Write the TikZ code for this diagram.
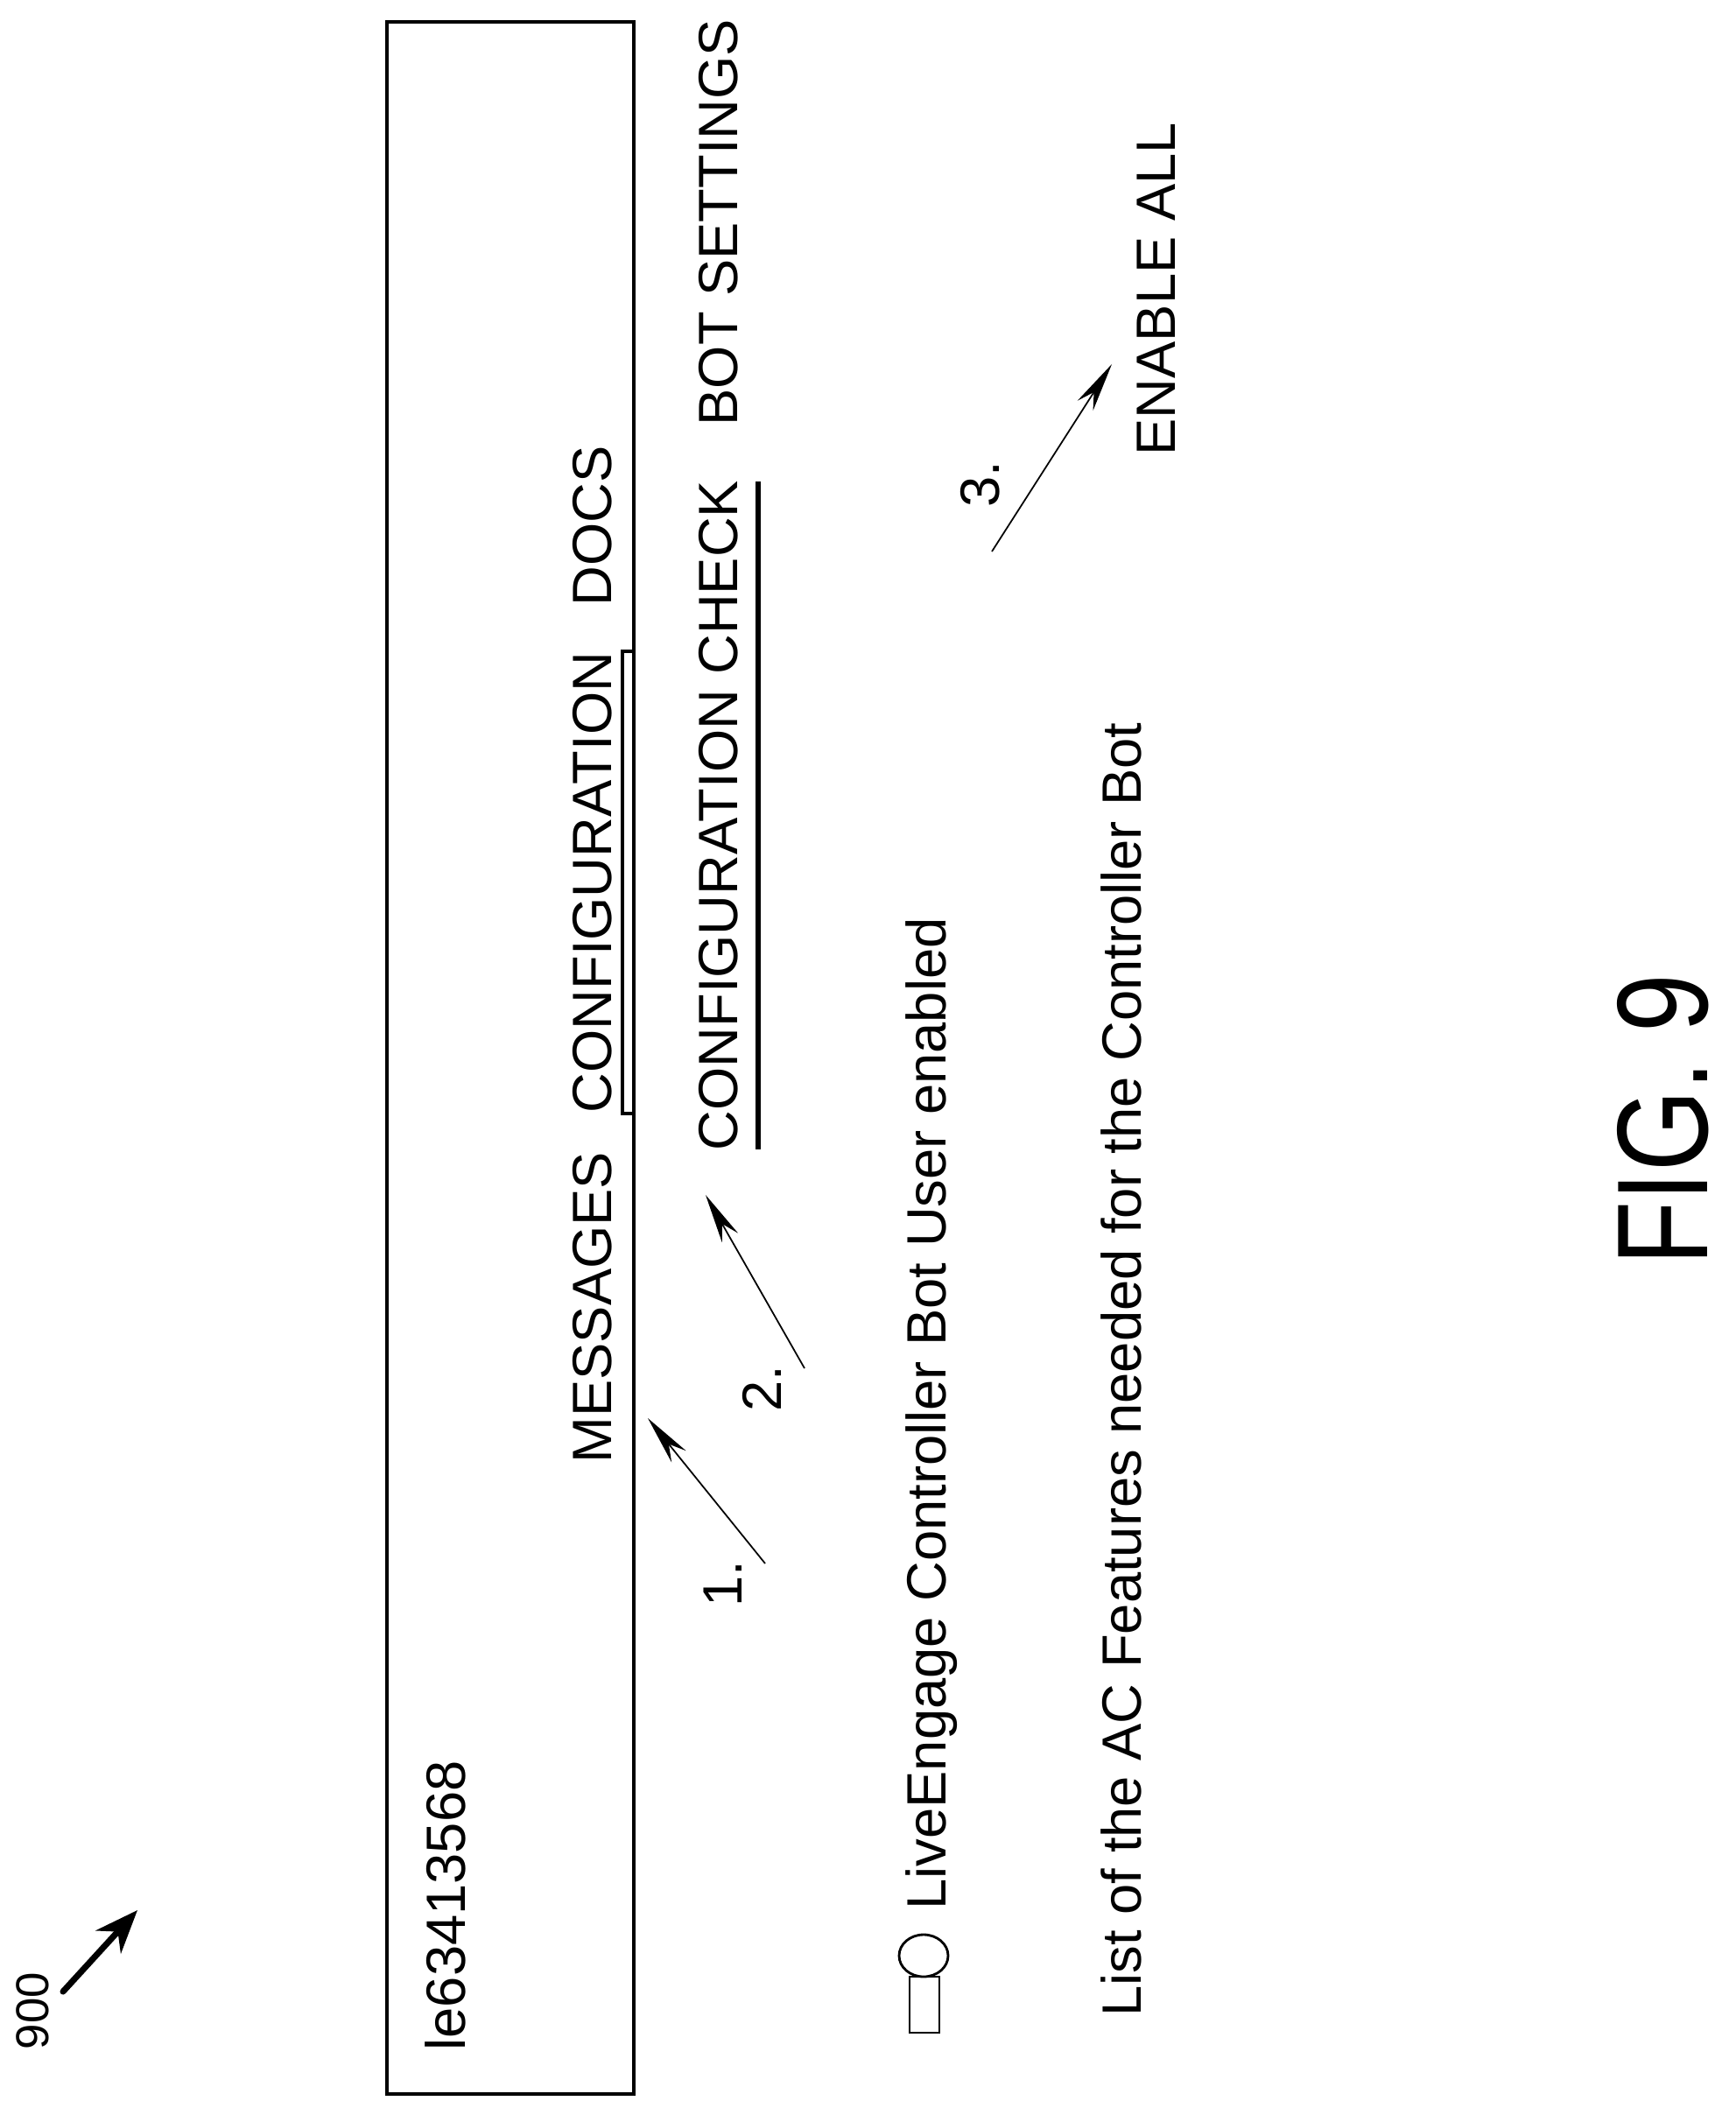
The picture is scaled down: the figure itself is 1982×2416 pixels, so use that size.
\documentclass[tikz,border=0pt]{standalone}
\usepackage{fontspec}
\setmainfont{Liberation Sans}
\usetikzlibrary{arrows.meta}
\begin{document}
\begin{tikzpicture}[x=0.01cm,y=-0.01cm,
  txt/.style={rotate=90,anchor=base west,inner sep=0pt,font=\fontsize{18}{21}\selectfont},
  small/.style={line width=0.5pt,-{Stealth[length=16pt,width=6pt]}},
  frame/.style={line width=0.9pt}]
\useasboundingbox (0,0) rectangle (1982,2416);
\draw[frame] (442,25) rectangle (724,2392);
\draw[frame] (724,744) -- (711,744) -- (711,1272) -- (724,1272);
\draw[line width=1.5pt] (866,550) -- (866,1313);
\node[txt] (id) at (531,2343) {le63413568};
\node[txt] (msg) at (698,1672) {MESSAGES};
\node[txt] (conf) at (698,1272) {CONFIGURATION};
\node[txt] (docs) at (698,693) {DOCS};
\node[txt] (check) at (842,1315) {CONFIGURATION CHECK};
\node[txt] (bots) at (842,487) {BOT SETTINGS};
\node[txt] (live) at (1080,2182) {LiveEngage Controller Bot User enabled};
\node[txt] (list) at (1303,2304) {List of the AC Features needed for the Controller Bot};
\node[txt] (enable) at (1342,521) {ENABLE ALL};
\node[txt] (n1) at (847,1836) {1.};
\node[txt] (n2) at (892,1613) {2.};
\node[txt] (n3) at (1141,580) {3.};
\node[txt,font=\fontsize{15}{17}\selectfont] (ref) at (55,2342) {900};
\node[rotate=90,anchor=base west,inner sep=0pt,font=\fontsize{42}{48}\selectfont] (fig) at (1950,1446) {\scalebox{0.81}[1]{FIG. 9}};
\draw[line width=0.8pt] (1055,2234) ellipse [x radius=28,y radius=24];
\draw[line width=0.8pt] (1039,2258) rectangle (1073,2322);
\coordinate (a1s) at (874,1786); \coordinate (a1e) at (740,1620);
\coordinate (a2s) at (919,1563); \coordinate (a2e) at (806,1365);
\coordinate (a3s) at (1133,630); \coordinate (a3e) at (1270,416);
\coordinate (rs) at (72,2275); \coordinate (re) at (157,2182);
\draw[small] (a1s) -- (a1e);
\draw[small] (a2s) -- (a2e);
\draw[small] (a3s) -- (a3e);
\draw[line width=2pt,line cap=round,-{Stealth[length=14pt,width=11pt]}] (rs) -- (re);
\end{tikzpicture}
\end{document}
